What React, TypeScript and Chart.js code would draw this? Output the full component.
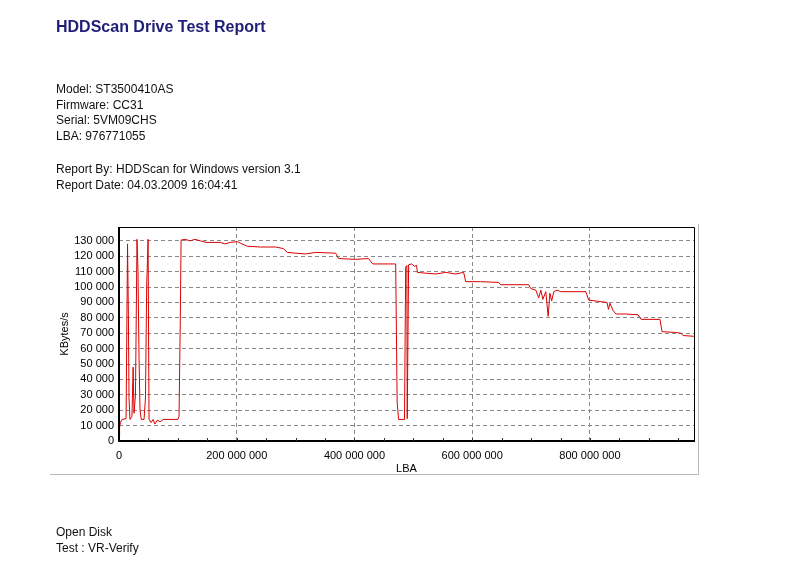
import React, { useEffect, useRef } from "react";
import { Chart, registerables } from "chart.js";

Chart.register(...registerables);

const TITLE = "HDDScan Drive Test Report";
const INFO_LINES = [
  "Model: ST3500410AS",
  "Firmware: CC31",
  "Serial: 5VM09CHS",
  "LBA: 976771055",
];
const REPORT_LINES = [
  "Report By: HDDScan for Windows version 3.1",
  "Report Date: 04.03.2009 16:04:41",
];
const FOOTER_LINES = ["Open Disk", "Test : VR-Verify"];

const X_TITLE = "LBA";
const Y_TITLE = "KBytes/s";
const LBA_MAX = 976771055;
const Y_MAX = 139000;
const Y_STEP = 10000;
const X_STEP = 200000000;
const X_MINOR_STEP = 50000000;

// LBA positions in millions
const lbaMillions = [
  0, 1, 2.5, 5, 12, 14.5, 16, 17, 18.7, 22, 24, 25.5, 28, 30.6, 32.3, 34, 35.7,
  38, 42.5, 45, 47, 49.4, 51, 54.5, 58, 61, 65, 70, 75, 87, 100, 102, 104,
  105.5, 112, 121, 129, 138, 148, 172, 180, 189, 201, 209, 218, 240, 266, 279,
  286, 300, 317, 334, 368, 373, 402, 424, 431, 470, 472.5, 475, 485, 487, 489,
  489.6, 492, 497, 502, 505.5, 507, 521, 538, 555, 572, 585.5, 589, 614, 645,
  648.5, 696, 699.5, 708, 713, 716.6, 720, 725, 729, 732, 735, 738.7, 744,
  750.6, 793, 798, 819, 829, 831.5, 834, 839, 844, 861, 881.6, 887, 919, 922.5,
  946, 954.5, 958, 976.7,
];
// Transfer speed in KBytes/s
const speedValues = [
  3000, 9000, 12000, 14000, 14500, 128000, 80000, 28000, 14000, 16000, 48000,
  18000, 30000, 131000, 110000, 55000, 20000, 14000, 14000, 28000, 100000,
  131000, 14000, 12000, 14000, 11000, 13500, 12500, 14000, 14000, 14000, 16000,
  75000, 130500, 131000, 130000, 131000, 130000, 129000, 129000, 128000, 129000,
  129500, 128000, 126500, 126000, 126000, 125000, 122500, 122000, 121500, 122500,
  122000, 118500, 118000, 118500, 115000, 115000, 25000, 14000, 14000, 113000,
  114000, 14500, 114500, 115000, 113500, 114000, 109500, 109000, 108500, 109500,
  108500, 109500, 103500, 103500, 103000, 101500, 101500, 99000, 98000, 93000,
  98000, 92000, 97000, 81000, 96000, 91000, 97000, 98000, 97000, 97000, 91500,
  90500, 90000, 85500, 89500, 85000, 82500, 82500, 82000, 79000, 79000, 71000,
  70500, 70000, 68500, 68000,
];

const FONT = "'Liberation Sans', Arial, sans-serif";

function fmt(v: number): string {
  return String(Math.round(v)).replace(/\B(?=(\d{3})+(?!\d))/g, " ");
}

const framePlugin = {
  id: "frame",
  afterDraw(chart: any) {
    const { ctx, chartArea } = chart;
    const { left, right, top, bottom } = chartArea;
    ctx.save();
    ctx.setLineDash([]);
    // axis lines (solid, thick on left and bottom)
    ctx.strokeStyle = "#000";
    ctx.lineWidth = 2;
    ctx.beginPath();
    ctx.moveTo(left, top);
    ctx.lineTo(left, bottom);
    ctx.lineTo(right + 1, bottom);
    ctx.stroke();
    // top and right border of plot
    ctx.lineWidth = 1;
    ctx.beginPath();
    ctx.moveTo(left, top + 0.5);
    ctx.lineTo(right + 0.5, top + 0.5);
    ctx.lineTo(right + 0.5, bottom);
    ctx.stroke();
    // minor ticks on x axis
    const xs = chart.scales.x;
    ctx.strokeStyle = "#333";
    ctx.beginPath();
    for (let v = X_MINOR_STEP; v < LBA_MAX; v += X_MINOR_STEP) {
      const px = Math.round(xs.getPixelForValue(v)) + 0.5;
      ctx.moveTo(px, bottom);
      ctx.lineTo(px, bottom - 3);
    }
    ctx.stroke();
    // outer picture frame (right and bottom)
    ctx.strokeStyle = "#b8b8b8";
    ctx.beginPath();
    ctx.moveTo(50, 474.5);
    ctx.lineTo(698.5, 474.5);
    ctx.lineTo(698.5, 224);
    ctx.stroke();
    ctx.restore();
  },
};

function ChartCanvas() {
  const ref = useRef<HTMLCanvasElement | null>(null);
  useEffect(() => {
    if (!ref.current) return;
    const points = lbaMillions.map((m, i) => ({ x: m * 1e6, y: speedValues[i] }));
    const chart = new Chart(ref.current, {
      type: "line",
      data: {
        datasets: [
          {
            data: points,
            borderColor: "rgb(218,0,0)",
            borderWidth: 1,
            pointRadius: 0,
            tension: 0,
            fill: false,
          },
        ],
      },
      options: {
        animation: false,
        responsive: false,
        devicePixelRatio: 1,
        layout: { padding: { left: 50, top: 227, right: 116, bottom: 99 } },
        plugins: { legend: { display: false }, tooltip: { enabled: false } },
        scales: {
          x: {
            type: "linear",
            min: 0,
            max: LBA_MAX,
            afterFit: (s: any) => {
              s.height = 35;
            },
            afterBuildTicks: (s: any) => {
              const t = [];
              for (let v = 0; v <= LBA_MAX; v += X_STEP) t.push({ value: v });
              s.ticks = t;
            },
            ticks: {
              autoSkip: false,
              maxRotation: 0,
              padding: 8,
              color: "#000",
              font: { family: FONT, size: 11 },
              callback: (v: any) => fmt(Number(v)),
            },
            grid: {
              drawTicks: false,
              color: "#8a8a8a",
              lineWidth: 1,
            },
            border: { display: false, dash: [4, 3] },
            title: {
              display: true,
              text: X_TITLE,
              color: "#000",
              font: { family: FONT, size: 11 },
              padding: { top: 0, bottom: 0 },
            },
          },
          y: {
            min: 0,
            max: Y_MAX,
            afterFit: (s: any) => {
              s.width = 69;
            },
            afterBuildTicks: (s: any) => {
              const t = [];
              for (let v = 0; v <= Y_MAX; v += Y_STEP) t.push({ value: v });
              s.ticks = t;
            },
            ticks: {
              padding: 5,
              color: "#000",
              font: { family: FONT, size: 11 },
              callback: (v: any) => fmt(Number(v)),
            },
            grid: {
              drawTicks: false,
              color: "#8a8a8a",
              lineWidth: 1,
            },
            border: { display: false, dash: [4, 3] },
            title: {
              display: true,
              text: Y_TITLE,
              color: "#000",
              font: { family: FONT, size: 11 },
              padding: { top: 8, bottom: 0 },
            },
          },
        },
      },
      plugins: [framePlugin],
    } as any);
    return () => chart.destroy();
  }, []);
  return (
    <canvas
      ref={ref}
      width={810}
      height={575}
      style={{ position: "absolute", left: 0, top: 0, width: 810, height: 575 }}
    />
  );
}

function Line({ text, y, bold, color, size }: { text: string; y: number; bold?: boolean; color?: string; size?: number }) {
  const s = size || 12;
  return (
    <div
      style={{
        position: "absolute",
        left: 56,
        top: y - s * 0.6,
        fontSize: s,
        lineHeight: `${Math.round(s * 1.2)}px`,
        fontWeight: bold ? "bold" : "normal",
        color: color || "#111",
        whiteSpace: "nowrap",
      }}
    >
      {text}
    </div>
  );
}

export default function App() {
  return (
    <div
      style={{
        position: "absolute",
        left: 0,
        top: 0,
        width: 810,
        height: 575,
        background: "#fff",
        fontFamily: FONT,
        overflow: "hidden",
      }}
    >
      <ChartCanvas />
      <Line text={TITLE} y={27} bold color="#1e1e78" size={16} />
      {INFO_LINES.map((t, i) => (
        <Line key={t} text={t} y={89 + i * 15.7} />
      ))}
      {REPORT_LINES.map((t, i) => (
        <Line key={t} text={t} y={169 + i * 16} />
      ))}
      {FOOTER_LINES.map((t, i) => (
        <Line key={t} text={t} y={532 + i * 16} />
      ))}
    </div>
  );
}
